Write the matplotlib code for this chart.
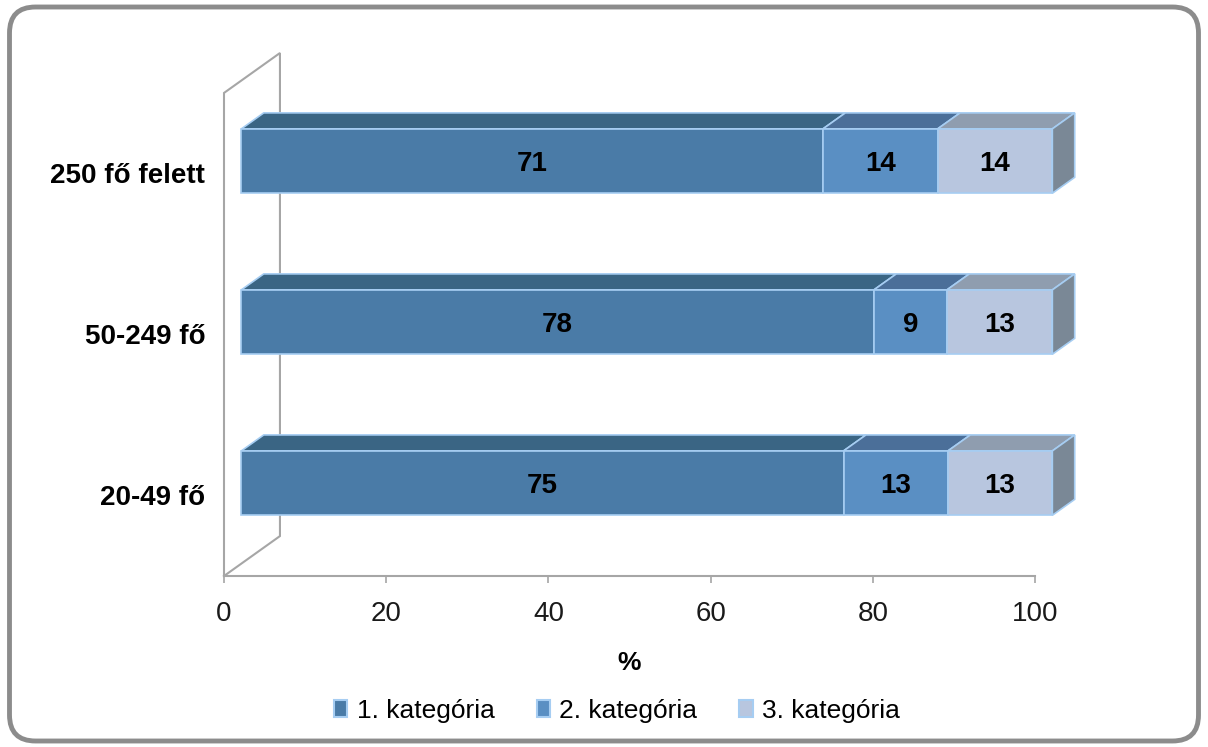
import matplotlib
matplotlib.use("Agg")
import matplotlib.pyplot as plt
from matplotlib.patches import Polygon, Rectangle, FancyBboxPatch, Patch
import numpy as np

plt.rcParams['font.family'] = ['Liberation Sans', 'DejaVu Sans']

# Data
categories = ["20-49 fő", "50-249 fő", "250 fő felett"]
series_names = ["1. kategória", "2. kategória", "3. kategória"]
cat1 = [75, 78, 71]
cat2 = [13, 9, 14]
cat3 = [13, 13, 14]
x_ticks = [0, 20, 40, 60, 80, 100]

# Styling
front_colors = ["#4A7BA7", "#5A8FC3", "#B8C6DF"]
top_colors = ["#3A6584", "#4B6F99", "#8F9DAF"]
side_color = "#7A8896"
edge_color = "#A6CDF2"
wall_color = "#A6A6A6"

W, H = 1208, 747
fig = plt.figure(figsize=(W / 100, H / 100), dpi=100)

# Axes placement (pixel based)
x0_px, x1_px = 224, 1035
ybot_px, ytop_px = 576, 53
ax = fig.add_axes([x0_px / W, (H - ybot_px) / H, (x1_px - x0_px) / W, (ybot_px - ytop_px) / H])

DEPTH_X = 6.9      # wall depth in x data units
DEPTH_Y = 0.248    # wall depth in y data units
FRONT, BACK = 0.31, 0.71
BAR_H = 0.40

ax.set_xlim(0, 100)
ax.set_ylim(-0.5, 2.5 + DEPTH_Y)

# Back wall outline
wall_x = [0, 0, DEPTH_X, DEPTH_X, 0]
wall_y = [-0.5, 2.5, 2.5 + DEPTH_Y, -0.5 + DEPTH_Y, -0.5]
ax.plot(wall_x, wall_y, color=wall_color, lw=1.5, zorder=1, clip_on=False, solid_joinstyle='miter')

values = np.array([cat1, cat2, cat3], dtype=float)  # shape (series, categories)
totals = values.sum(axis=0)
shares = values / totals * 100
starts = np.vstack([np.zeros(len(categories)), np.cumsum(shares, axis=0)[:-1]])

fx, fy = FRONT * DEPTH_X, FRONT * DEPTH_Y
bx, by = BACK * DEPTH_X, BACK * DEPTH_Y

for i in range(len(categories)):
    for j in range(len(series_names)):
        s = starts[j, i]
        e = s + shares[j, i]
        yb = i - BAR_H / 2
        yt = i + BAR_H / 2
        # top face
        top = Polygon([(s + fx, yt + fy), (e + fx, yt + fy), (e + bx, yt + by), (s + bx, yt + by)],
                      closed=True, facecolor=top_colors[j], edgecolor=edge_color, lw=1.2,
                      zorder=3, clip_on=False)
        ax.add_patch(top)
        # front face
        front = Rectangle((s + fx, yb + fy), e - s, BAR_H, facecolor=front_colors[j],
                          edgecolor=edge_color, lw=1.2, zorder=4, clip_on=False)
        ax.add_patch(front)
        ax.text((s + e) / 2 + fx, i + fy, f"{int(values[j, i])}", ha='center',
                va='center_baseline', fontsize=20, fontweight='bold', color='black', zorder=6)
        if j == len(series_names) - 1:
            side = Polygon([(e + fx, yb + fy), (e + fx, yt + fy), (e + bx, yt + by), (e + bx, yb + by)],
                           closed=True, facecolor=side_color, edgecolor=edge_color, lw=1.2,
                           zorder=3, clip_on=False)
            ax.add_patch(side)

# Axes styling
for sp in ['top', 'right', 'left']:
    ax.spines[sp].set_visible(False)
ax.spines['bottom'].set_color(wall_color)
ax.spines['bottom'].set_linewidth(1.5)
ax.set_xticks(x_ticks)
ax.set_xticklabels([str(t) for t in x_ticks], fontsize=20, color='#1a1a1a')
ax.tick_params(axis='x', direction='out', length=5, width=1.2, color=wall_color, pad=13)
ax.set_yticks(range(len(categories)))
ax.set_yticklabels(categories, fontsize=20, fontweight='bold')
ax.tick_params(axis='y', length=0, pad=13.5)
ax.set_xlabel('%', fontsize=19, fontweight='bold', labelpad=17)
ax.patch.set_visible(False)

# Legend
handles = [Patch(facecolor=front_colors[k], edgecolor=edge_color, lw=1.5) for k in range(3)]
fig.legend(handles, series_names, loc='center', bbox_to_anchor=(617 / W, 1 - 711 / H), ncol=3,
           frameon=False, fontsize=19, handlelength=0.5, handleheight=0.6, handletextpad=0.35,
           columnspacing=1.6)

# Rounded outer frame
frame_ax = fig.add_axes([0, 0, 1, 1], zorder=-1)
frame_ax.set_xlim(0, W)
frame_ax.set_ylim(H, 0)
frame_ax.axis('off')
frame = FancyBboxPatch((9.5, 7), W - 19, H - 13, boxstyle="round,pad=0,rounding_size=26",
                       facecolor='white', edgecolor='#8C8C8C', lw=3.5)
frame_ax.add_patch(frame)

fig.savefig("out.png", dpi=100)
